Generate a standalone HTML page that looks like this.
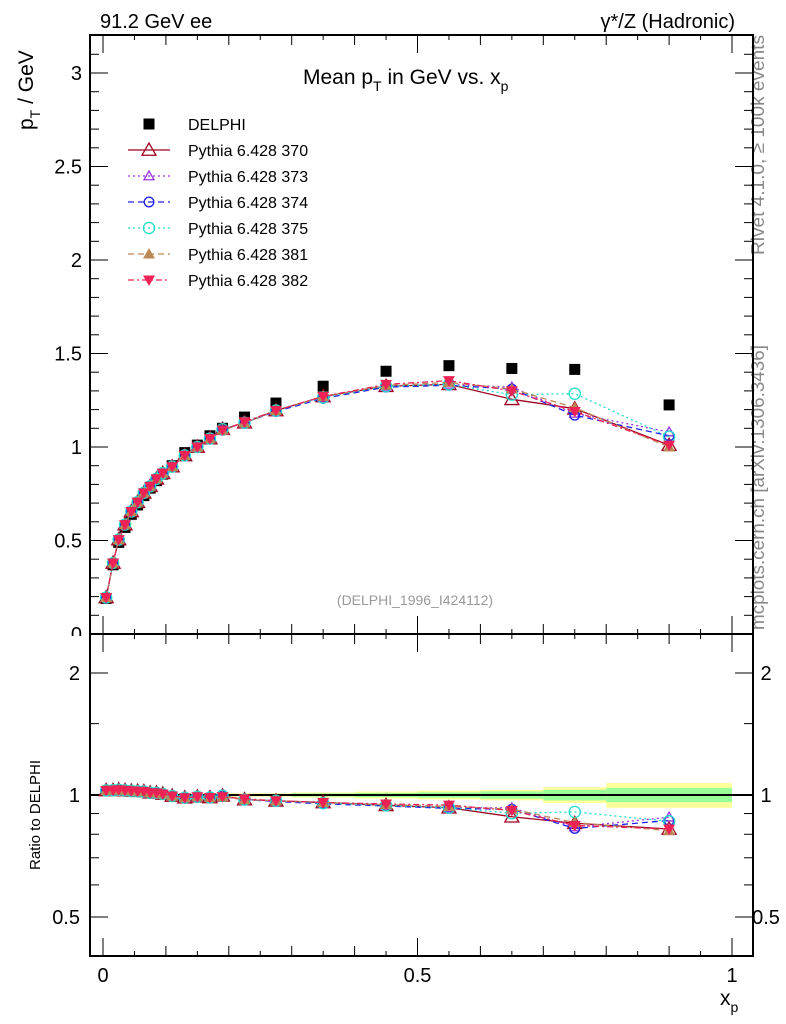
<!DOCTYPE html>
<html><head><meta charset="utf-8"><style>
body{margin:0;background:#fff;}
svg{display:block;font-family:"Liberation Sans",sans-serif;}
</style></head><body>
<svg id="chart" width="786" height="1024" viewBox="0 0 786 1024">
<defs><clipPath id="zclip"><rect x="0" y="0" width="90" height="636"/></clipPath></defs>
<text x="100" y="28" font-size="20">91.2 GeV ee</text>
<text x="735" y="28" font-size="20" text-anchor="end">γ*/Z (Hadronic)</text>
<text x="303" y="84" font-size="21">Mean p<tspan dy="7" font-size="14">T</tspan><tspan dy="-7"> in GeV vs. x</tspan><tspan dy="7" font-size="14">p</tspan></text>
<text transform="translate(33,130) rotate(-90)" font-size="21">p<tspan dy="7" font-size="14">T</tspan><tspan dy="-7"> / GeV</tspan></text>
<text transform="translate(40,870) rotate(-90)" font-size="15">Ratio to DELPHI</text>
<text x="720" y="1005" font-size="21">x<tspan dy="7" font-size="14">p</tspan></text>
<text transform="translate(764,255) rotate(-90)" font-size="18.5" fill="#888" textLength="220" lengthAdjust="spacingAndGlyphs">Rivet 4.1.0, ≥ 100k events</text>
<text transform="translate(764,630) rotate(-90)" font-size="18" fill="#888" textLength="285" lengthAdjust="spacingAndGlyphs">mcplots.cern.ch [arXiv:1306.3436]</text>
<text x="415" y="605" font-size="14" fill="#999" text-anchor="middle">(DELPHI_1996_I424112)</text>
<g id="bands"></g><g id="axes"></g><g id="series"></g><g id="legend"></g>
</svg>
<script>
const xVals=[0.005,0.016,0.025,0.035,0.045,0.055,0.065,0.075,0.085,0.095,0.11,0.13,0.15,0.17,0.19,0.225,0.275,0.35,0.45,0.55,0.65,0.75,0.9];
const delphi=[0.19,0.37,0.49,0.57,0.64,0.69,0.74,0.78,0.82,0.855,0.90,0.97,1.01,1.06,1.10,1.16,1.235,1.325,1.405,1.435,1.42,1.415,1.225];
const s370=[0.195,0.38,0.505,0.585,0.655,0.705,0.755,0.79,0.83,0.86,0.895,0.955,1.0,1.045,1.095,1.13,1.195,1.27,1.325,1.335,1.255,1.205,1.01];
const s373=[0.195,0.38,0.505,0.585,0.655,0.705,0.755,0.79,0.83,0.86,0.895,0.955,1.0,1.045,1.09,1.13,1.195,1.265,1.325,1.335,1.32,1.18,1.08];
const s374=[0.195,0.38,0.505,0.585,0.655,0.705,0.755,0.79,0.83,0.86,0.895,0.955,1.0,1.045,1.09,1.13,1.19,1.26,1.32,1.33,1.31,1.17,1.06];
const s375=[0.195,0.38,0.505,0.585,0.655,0.705,0.755,0.79,0.83,0.86,0.895,0.955,1.0,1.045,1.095,1.13,1.195,1.265,1.325,1.335,1.28,1.285,1.055];
const s381=[0.195,0.38,0.505,0.585,0.655,0.705,0.755,0.79,0.83,0.86,0.895,0.955,1.0,1.045,1.09,1.13,1.195,1.27,1.33,1.345,1.31,1.21,1.0];
const s382=[0.195,0.38,0.505,0.585,0.655,0.705,0.755,0.79,0.83,0.86,0.895,0.955,1.0,1.045,1.09,1.135,1.195,1.27,1.335,1.355,1.30,1.19,1.01];
const bandEdges=[0.0,0.2,0.3,0.4,0.5,0.6,0.7,0.8,1.0];
const bandYellow=[0.008,0.01,0.015,0.02,0.025,0.03,0.045,0.07];
const bandGreen=[0.005,0.006,0.009,0.012,0.015,0.02,0.03,0.04];
const yTicks=[0.5,1,1.5,2,2.5,3];
const yTickLabels=["0.5","1","1.5","2","2.5","3"];
const rTicks=[0.5,1,2];
const rTickLabels=["0.5","1","2"];
const xTicks=[0,0.5,1];
const xTickLabels=["0","0.5","1"];

const NS="http://www.w3.org/2000/svg";
const L=90,R=753,T=35,MB=634,B=956;
const X=v=>103+v*629;
const Y=v=>634-v*187;
const RY=v=>795-Math.log2(v)*122;
function el(tag,attrs,parent){const e=document.createElementNS(NS,tag);for(const k in attrs)e.setAttribute(k,attrs[k]);parent.appendChild(e);return e;}
const axes=document.getElementById('axes'),bands=document.getElementById('bands'),ser=document.getElementById('series'),leg=document.getElementById('legend');

for(let i=0;i<bandYellow.length;i++){
  const x0=X(bandEdges[i]),x1=X(bandEdges[i+1]);
  const y=el('rect',{x:x0,y:RY(1+bandYellow[i]),width:x1-x0,height:RY(1-bandYellow[i])-RY(1+bandYellow[i]),fill:'#ffff99'},bands);
  
  
  const g=el('rect',{x:x0,y:RY(1+bandGreen[i]),width:x1-x0,height:RY(1-bandGreen[i])-RY(1+bandGreen[i]),fill:'#99ff99'},bands);
  
  
}
const f1=el('rect',{x:L,y:T,width:R-L,height:MB-T,fill:'none',stroke:'#000','stroke-width':2},axes);


const f2=el('rect',{x:L,y:MB,width:R-L,height:B-MB,fill:'none',stroke:'#000','stroke-width':2},axes);


const one=el('line',{x1:L,x2:R,y1:RY(1),y2:RY(1),stroke:'#000','stroke-width':2},axes);


for(let v=0.1;v<3.2;v+=0.1){const y=Y(v);const maj=Math.abs(v*2-Math.round(v*2))<1e-6;
  el('line',{x1:L,x2:L+(maj?18:9),y1:y,y2:y,stroke:'#000'},axes);
  el('line',{x1:R,x2:R-(maj?18:9),y1:y,y2:y,stroke:'#000'},axes);}
yTicks.forEach((v,i)=>{const t=el('text',{x:82,y:Y(v)+7,'font-size':20,'text-anchor':'end'},axes);t.textContent=yTickLabels[i];
  
  });
const z=el('text',{x:82,y:641,'font-size':20,'text-anchor':'end','clip-path':'url(#zclip)'},axes);z.textContent='0';


[0.4,0.5,0.6,0.7,0.8,0.9,1,1.5,2].forEach(v=>{const y=RY(v);const maj=[0.5,1,2].includes(v);
  el('line',{x1:L,x2:L+(maj?18:9),y1:y,y2:y,stroke:'#000'},axes);
  el('line',{x1:R,x2:R-(maj?18:9),y1:y,y2:y,stroke:'#000'},axes);});
rTicks.forEach((v,i)=>{
  const t=el('text',{x:80,y:RY(v)+7,'font-size':20,'text-anchor':'end'},axes);t.textContent=rTickLabels[i];
  
  
  const t2=el('text',{x:766,y:RY(v)+7,'font-size':20,'text-anchor':'middle'},axes);t2.textContent=rTickLabels[i];
  
  });
for(let k=0;k<=20;k++){const v=k*0.05;const x=X(v);const maj=k%10==0;const mid=k%2==0;const len=maj?18:(mid?10:5);
  el('line',{x1:x,x2:x,y1:T,y2:T+len,stroke:'#000'},axes);
  el('line',{x1:x,x2:x,y1:MB,y2:MB-len,stroke:'#000'},axes);
  el('line',{x1:x,x2:x,y1:B,y2:B-len,stroke:'#000'},axes);
  el('line',{x1:x,x2:x,y1:MB,y2:MB+len,stroke:'#000'},axes);}
xTicks.forEach((v,i)=>{const t=el('text',{x:X(v),y:982,'font-size':20,'text-anchor':'middle'},axes);t.textContent=xTickLabels[i];
  
  });

function marker(g,type,color,x,y,s){
  if(type==='sq')el('rect',{x:x-5.5,y:y-5.5,width:11,height:11,fill:'#000'},g);
  else if(type==='tri')el('polygon',{points:`${x},${y-s} ${x-s},${y+s*0.75} ${x+s},${y+s*0.75}`,fill:'none',stroke:color,'stroke-width':1.3},g);
  else if(type==='tri-f')el('polygon',{points:`${x},${y-s} ${x-s},${y+s*0.75} ${x+s},${y+s*0.75}`,fill:color},g);
  else if(type==='tri-d')el('polygon',{points:`${x},${y+s} ${x-s},${y-s*0.75} ${x+s},${y-s*0.75}`,fill:color},g);
  else if(type==='circ')el('circle',{cx:x,cy:y,r:s*0.8,fill:'none',stroke:color,'stroke-width':1.3},g);
}
const mc=[
 {name:'Pythia 6.428 370',data:s370,color:'#a00020',dash:'',m:'tri',s:7},
 {name:'Pythia 6.428 373',data:s373,color:'#9933dd',dash:'2,3',m:'tri',s:5},
 {name:'Pythia 6.428 374',data:s374,color:'#2222ee',dash:'6,4',m:'circ',s:6},
 {name:'Pythia 6.428 375',data:s375,color:'#22ddcc',dash:'2,3',m:'circ',s:7},
 {name:'Pythia 6.428 381',data:s381,color:'#bb8855',dash:'6,4',m:'tri-f',s:6},
 {name:'Pythia 6.428 382',data:s382,color:'#ee2255',dash:'6,3,2,3',m:'tri-d',s:6}];
const dg=el('g',{},ser);


delphi.forEach((v,i)=>marker(dg,'sq','#000',X(xVals[i]),Y(v),0));
mc.forEach((sr,si)=>{
  const g=el('g',{},ser);
  
  
  el('polyline',{points:sr.data.map((v,i)=>X(xVals[i])+','+Y(v)).join(' '),fill:'none',stroke:sr.color,'stroke-width':1.3,'stroke-dasharray':sr.dash},g);
  el('polyline',{points:sr.data.map((v,i)=>X(xVals[i])+','+RY(v/delphi[i])).join(' '),fill:'none',stroke:sr.color,'stroke-width':1.3,'stroke-dasharray':sr.dash},g);
  sr.data.forEach((v,i)=>{marker(g,sr.m,sr.color,X(xVals[i]),Y(v),sr.s);marker(g,sr.m,sr.color,X(xVals[i]),RY(v/delphi[i]),sr.s);});
});
const rows=[{name:'DELPHI',m:'sq',color:'#000',dash:null,s:0}].concat(mc);
rows.forEach((r,i)=>{const y=124+i*26;const g=el('g',{},leg);
  
  
  if(r.dash!==null)el('line',{x1:128,x2:170,y1:y,y2:y,stroke:r.color,'stroke-width':1.3,'stroke-dasharray':r.dash},g);
  marker(g,r.m,r.color,149,y,r.s);
  const t=el('text',{x:188,y:y+6,'font-size':16},g);t.textContent=r.name;});
</script>
</body></html>
